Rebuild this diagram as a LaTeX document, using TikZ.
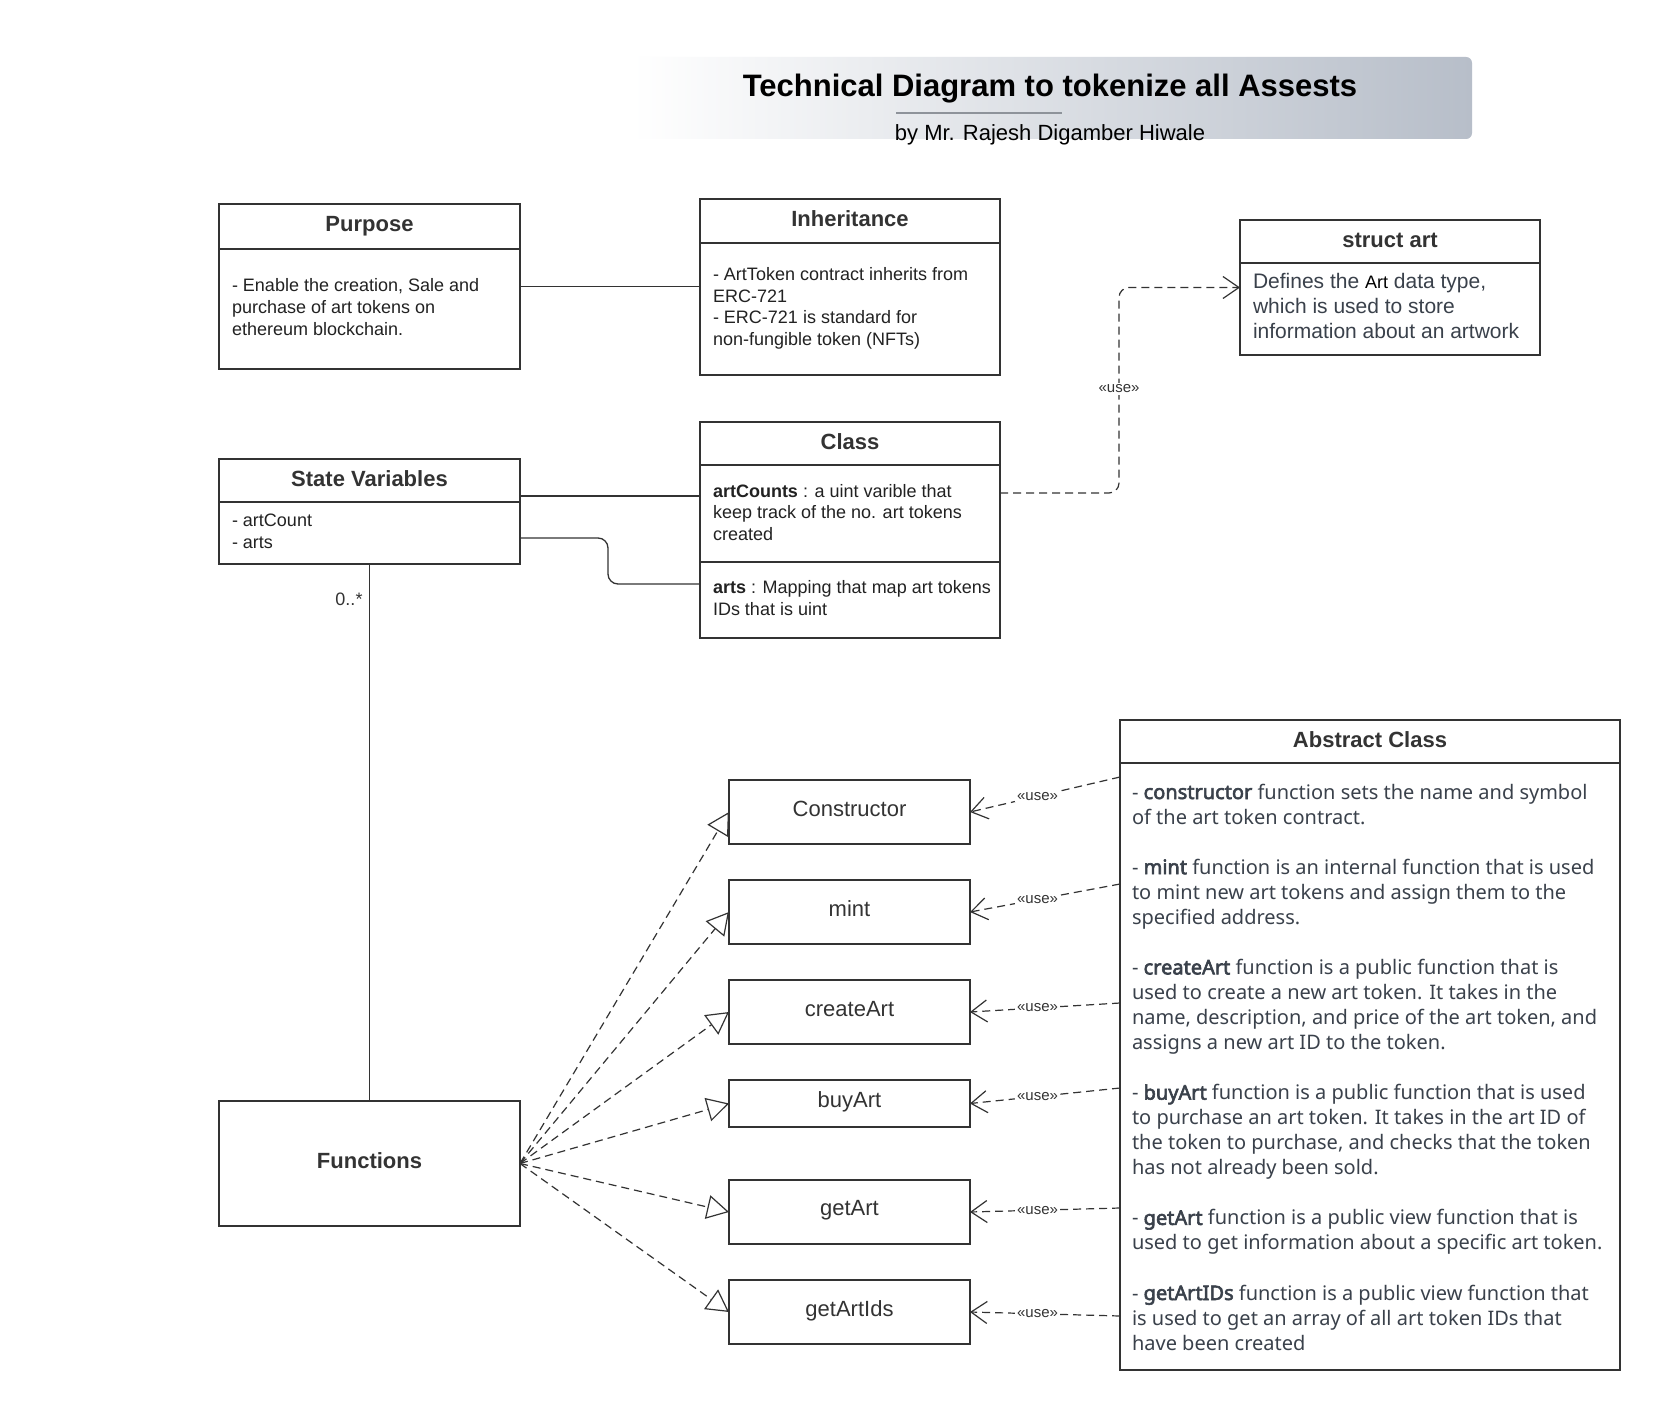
\documentclass[tikz,border=0pt]{standalone}
\usepackage{fontspec}
\setmainfont{Liberation Sans}
\newfontfamily\bodyfont[BoldFont={Noto Sans},BoldFeatures={FakeBold=3}]{Noto Sans}
\usetikzlibrary{arrows.meta,calc}
\definecolor{ln}{HTML}{333333}
\definecolor{txt}{HTML}{222222}
\definecolor{slate}{HTML}{3A414B}
\definecolor{bannerR}{HTML}{B7BEC9}
\definecolor{uline}{HTML}{8E939A}
\newcommand{\fs}[2]{\fontsize{#1}{#2}\selectfont}
\begin{document}
\begin{tikzpicture}[x=1pt,y=-1pt,
  every node/.style={inner sep=0pt,outer sep=0pt},
  box/.style={draw=ln,line width=2pt,anchor=north west},
  divline/.style={draw=ln,line width=2pt},
  hdr/.style={font=\fs{22}{26}\bfseries,text=ln,anchor=base},
  body/.style={font=\fs{18}{21.6},text=txt,align=left,anchor=west},
  fn/.style={font=\fs{22}{26},text=ln},
  conn/.style={draw=ln,line width=1.3pt},
  real/.style={draw=ln,line width=1.2pt,dash pattern=on 8pt off 5pt,
    -{Triangle[open,length=22pt,width=24pt,line width=1.2pt]}},
  usedep/.style={draw=ln,line width=1.2pt,dash pattern=on 8pt off 5pt,
    -{Straight Barb[length=16pt,width=22pt,line width=1.2pt]}},
  usel/.style={font=\fs{15}{18},text=ln,fill=white,inner sep=2pt}]
\useasboundingbox (0,0) rectangle (1660,1410);
\fill[white] (0,0) rectangle (1660,1410);

% banner
\node[anchor=north west,minimum width=840pt,minimum height=82pt,
  left color=white,right color=bannerR,rounded corners=6pt] (banner) at (632,57) {};
\draw[draw=uline,line width=1.5pt] ($(banner.north west)+(264,56)$) -- ++(166,0);
\node[font=\fs{31}{36}\bfseries,text=black] (title) at ($(banner.north west)+(418,32)$)
  {Technical Diagram to tokenize all Assests};
\node[font=\fs{22}{26},text=black] (subtitle) at ($(banner.north west)+(418,78)$)
  {by Mr. Rajesh Digamber Hiwale};

% Purpose
\node[box,minimum width=301pt,minimum height=165pt] (purpose) at (219,204) {};
\draw[divline] ([yshift=-45pt]purpose.north west) -- ([yshift=-45pt]purpose.north east);
\node[hdr] (purposeH) at ($(purpose.north)+(0,27.5)$) {Purpose};
\node[body] (purposeT) at ($(purpose.north west)+(13,103)$)
  {- Enable the creation, Sale and\\purchase of art tokens on\\ethereum blockchain.};

% Inheritance
\node[box,minimum width=300pt,minimum height=176pt] (inherit) at (700,199) {};
\draw[divline] ([yshift=-44pt]inherit.north west) -- ([yshift=-44pt]inherit.north east);
\node[hdr] (inheritH) at ($(inherit.north)+(0,27.5)$) {Inheritance};
\node[body] (inheritT) at ($(inherit.north west)+(13,109.5)$)
  {- ArtToken contract inherits from\\ERC-721\\- ERC-721 is standard for\\non-fungible token (NFTs)};

% struct art
\node[box,minimum width=300pt,minimum height=135pt] (struct) at (1240,220) {};
\draw[divline] ([yshift=-42.5pt]struct.north west) -- ([yshift=-42.5pt]struct.north east);
\node[hdr] (structH) at ($(struct.north)+(0,27.5)$) {struct art};
\node[anchor=west,align=left,font=\fs{21}{25},text=slate] (structT) at ($(struct.north west)+(13,86.4)$)
  {Defines the {\fs{18}{25}\color{black}Art} data type,\\which is used to store\\information about an artwork};

% State Variables
\node[box,minimum width=301pt,minimum height=105pt] (sv) at (219,459) {};
\draw[divline] ([yshift=-43pt]sv.north west) -- ([yshift=-43pt]sv.north east);
\node[hdr] (svH) at ($(sv.north)+(0,27.5)$) {State Variables};
\node[body] (svT) at ($(sv.north west)+(13,72.5)$) {- artCount\\- arts};

% Class
\node[box,minimum width=300pt,minimum height=216pt] (class) at (700,422) {};
\draw[divline] ([yshift=-43pt]class.north west) -- ([yshift=-43pt]class.north east);
\draw[divline] ([yshift=-140pt]class.north west) -- ([yshift=-140pt]class.north east);
\node[hdr] (classH) at ($(class.north)+(0,27.5)$) {Class};
\node[body] (classT1) at ($(class.north west)+(13,90.5)$)
  {\textbf{artCounts} : a uint varible that\\keep track of the no. art tokens\\created};
\node[body] (classT2) at ($(class.north west)+(13,176)$)
  {\textbf{arts} : Mapping that map art tokens\\IDs that is uint};

% Functions
\node[box,minimum width=301pt,minimum height=125pt] (func) at (219,1101) {};
\node[font=\fs{22}{26}\bfseries,text=ln] (funcT) at ($(func.center)+(0,-3)$) {Functions};

% function boxes
\node[box,minimum width=241pt,minimum height=64pt] (ctor) at (729,780) {};
\node[fn] at ($(ctor.center)+(0,-3)$) {Constructor};
\node[box,minimum width=241pt,minimum height=64pt] (mint) at (729,880) {};
\node[fn] at ($(mint.center)+(0,-3)$) {mint};
\node[box,minimum width=241pt,minimum height=64pt] (create) at (729,980) {};
\node[fn] at ($(create.center)+(0,-2.5)$) {createArt};
\node[box,minimum width=241pt,minimum height=47pt] (buy) at (729,1080) {};
\node[fn] at ($(buy.center)+(0,-1.5)$) {buyArt};
\node[box,minimum width=241pt,minimum height=64pt] (getart) at (729,1180) {};
\node[fn] at ($(getart.center)+(0,-1.5)$) {getArt};
\node[box,minimum width=241pt,minimum height=64pt] (getids) at (729,1280) {};
\node[fn] at ($(getids.center)+(0,-1.5)$) {getArtIds};

% Abstract Class
\node[box,minimum width=500pt,minimum height=650pt] (abs) at (1120,720) {};
\draw[divline] ([yshift=-43pt]abs.north west) -- ([yshift=-43pt]abs.north east);
\node[hdr] (absH) at ($(abs.north)+(0,27.5)$) {Abstract Class};
\node[anchor=west,align=left,font=\bodyfont\fs{20}{25.05},text=slate] (absT) at ($(abs.north west)+(12,347)$)
  {- \textbf{constructor} function sets the name and symbol\\
of the art token contract.\\[25.05pt]
- \textbf{mint} function is an internal function that is used\\
to mint new art tokens and assign them to the\\
specified address.\\[25.05pt]
- \textbf{createArt} function is a public function that is\\
used to create a new art token. It takes in the\\
name, description, and price of the art token, and\\
assigns a new art ID to the token.\\[25.05pt]
- \textbf{buyArt} function is a public function that is used\\
to purchase an art token. It takes in the art ID of\\
the token to purchase, and checks that the token\\
has not already been sold.\\[25.05pt]
- \textbf{getArt} function is a public view function that is\\
used to get information about a specific art token.\\[25.05pt]
- \textbf{getArtIDs} function is a public view function that\\
is used to get an array of all art token IDs that\\
have been created};

% connectors
\draw[conn] (purpose.east) -- (purpose.east -| inherit.west);
\coordinate (svA) at ($(sv.north east)+(0,37)$);
\draw[conn] (svA) -- (svA -| class.west);
\coordinate (svB) at ($(sv.north east)+(0,79)$);
\coordinate (clB) at ($(class.north west)+(0,162)$);
\draw[conn,rounded corners=10pt] (svB) -- ++(88,0) |- (clB);
\coordinate (clC) at ($(class.north east)+(0,71)$);
\draw[usedep,rounded corners=10pt] (clC) -- ++(119,0) |- (struct.west);
\node[usel] (clsUse) at ($(clC)+(119,-104)$) {«use»};
\draw[conn] (sv.south) -- (func.north)
  node[pos=0.065,anchor=east,xshift=-7pt,font=\fs{18}{21},text=ln] {0..*};

\foreach \n in {ctor,mint,create,buy,getart,getids}
  \draw[real] (func.east) -- (\n.west);

\foreach \dy/\n in {57/ctor,164/mint,283/create,368/buy,488/getart,596/getids}
  \draw[usedep] ($(abs.north west)+(0,\dy)$) -- (\n.east) node[pos=0.55,usel] {«use»};
\end{tikzpicture}
\end{document}
